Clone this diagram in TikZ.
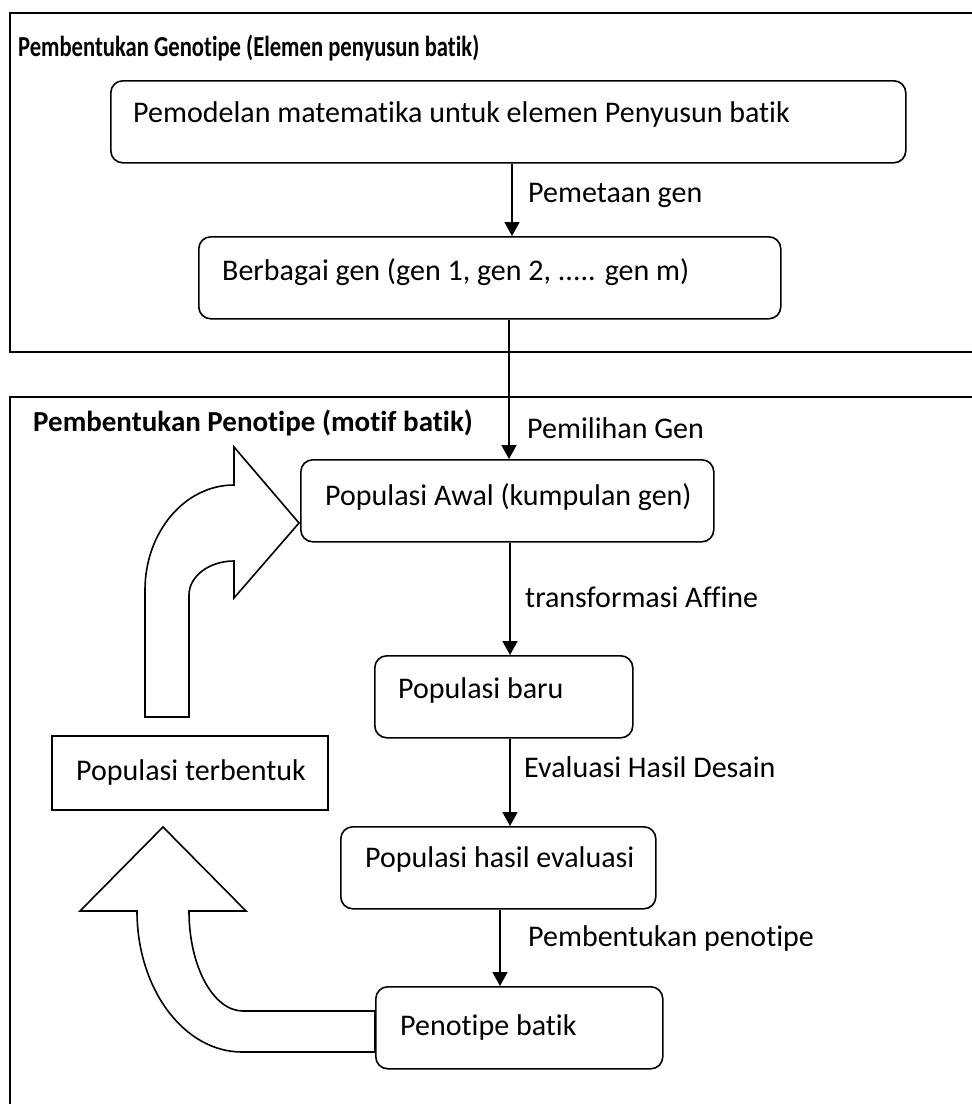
\documentclass[tikz,border=0pt]{standalone}
\usepackage{fontspec}
\setmainfont{Carlito}[Ligatures=NoCommon]
\usetikzlibrary{arrows.meta}
\tikzset{
  box/.style={draw, line width=1.6pt, rounded corners=12pt, fill=white, anchor=north west},
  lbl/.style={anchor=west, inner sep=0pt, font=\fontsize{30}{34}\selectfont},
  arr/.style={line width=1.6pt, -{Triangle[length=14pt,width=15pt]}}
}
\begin{document}
\begin{tikzpicture}[x=1pt,y=-1pt]
\useasboundingbox (0,0) rectangle (972,1104);
% frames
\draw[line width=1.6pt] (10,13) rectangle (990,352);
\draw[line width=1.6pt] (10,397) rectangle (990,1120);
\node[lbl, font=\bfseries\fontsize{29}{33}\selectfont, xscale=0.78] (genoT) at (18,48) {Pembentukan Genotipe (Elemen penyusun batik)};
\node[lbl, font=\bfseries\fontsize{29}{33}\selectfont] (fenoT) at (33,423) {Pembentukan Penotipe (motif batik)};
% genotipe
\node[box, minimum width=795pt, minimum height=82pt] (model) at (110,80) {};
\node[lbl] (modelT) at (133,114) {Pemodelan matematika untuk elemen Penyusun batik};
\node[box, minimum width=582pt, minimum height=82pt] (gen) at (198,236) {};
\node[lbl] (genT) at (222,272) {Berbagai gen (gen 1, gen 2, ..... gen m)};
\draw[arr] (model.south -| 512,0) -- (gen.north -| 512,0);
\node[lbl] (petaT) at (528,195) {Pemetaan gen};
% penotipe
\node[lbl] (pilihT) at (527,428) {Pemilihan Gen};
\node[box, minimum width=413pt, minimum height=82pt] (awal) at (300,459) {};
\node[lbl] (awalT) at (325,497) {Populasi Awal (kumpulan gen)};
\draw[arr] (gen.south -| 509,0) -- (awal.north -| 509,0);
\node[box, minimum width=258pt, minimum height=82pt] (baru) at (374,655) {};
\node[lbl] (baruT) at (398,690) {Populasi baru};
\draw[arr] (awal.south -| 510,0) -- (baru.north -| 510,0);
\node[lbl] (affT) at (525,597) {transformasi Affine};
\node[box, minimum width=315pt, minimum height=82pt] (hasil) at (340,826) {};
\node[lbl] (hasilT) at (365,859) {Populasi hasil evaluasi};
\draw[arr] (baru.south -| 510,0) -- (hasil.north -| 510,0);
\node[lbl] (evalT) at (524,767) {Evaluasi Hasil Desain};
% curved arrows
\draw[line width=1.6pt, fill=white] (145,717) -- (145,590) arc[start angle=180, end angle=270, x radius=89, y radius=105]
  -- (234,447) -- (299,523) -- (234,598) -- (234,561)
  arc[start angle=270, end angle=180, x radius=45, y radius=34] -- (189,717) -- cycle;
\draw[line width=1.6pt, fill=white] (375,1011) -- (243,1011) arc[start angle=90, end angle=180, x radius=54, y radius=100]
  -- (246,911) -- (163,827) -- (80,911) -- (137,911)
  arc[start angle=180, end angle=90, x radius=105, y radius=141] -- (375,1052) -- cycle;
\node[box, minimum width=287pt, minimum height=82pt] (feno) at (375,986) {};
\node[lbl] (fenoBT) at (400,1027) {Penotipe batik};
\draw[arr] (hasil.south -| 500,0) -- (feno.north -| 500,0);
\node[lbl] (bentukT) at (528,938) {Pembentukan penotipe};
\node[draw, line width=1.6pt, anchor=north west, minimum width=276pt, minimum height=74pt] (terbentuk) at (51,735) {};
\node[lbl] (terbentukT) at (76,772) {Populasi terbentuk};
\end{tikzpicture}
\end{document}
